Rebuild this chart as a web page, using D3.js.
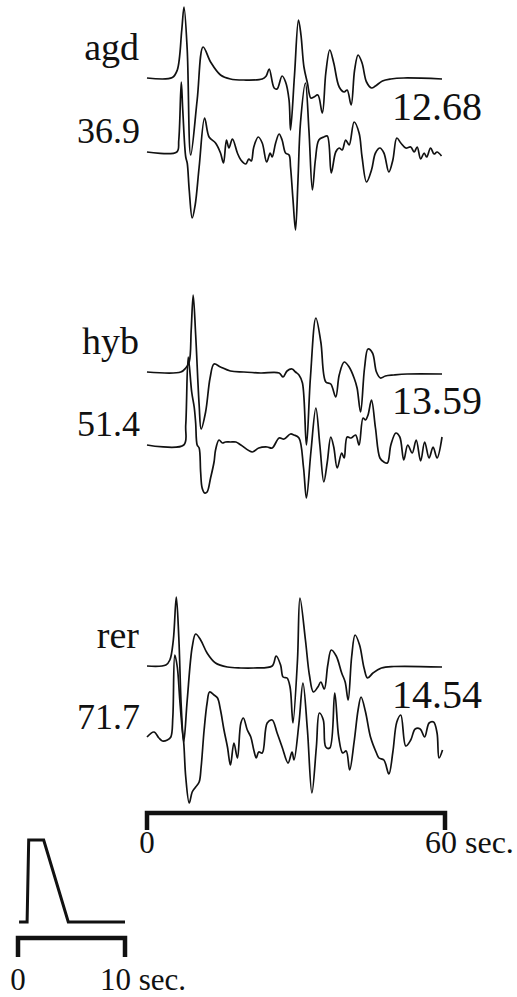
<!DOCTYPE html>
<html>
<head>
<meta charset="utf-8">
<script src="https://cdn.jsdelivr.net/npm/d3@7"></script>
<style>
	html, body { margin: 0; padding: 0; background: #fff; }
	svg { display: block; }
	text { font-family: "Liberation Serif", "Times New Roman", serif; fill: #111; }
</style>
</head>
<body>
<svg id="chart"></svg>
<script>
// station names and the two numbers printed next to each pair of traces
var stations = ['agd', 'hyb', 'rer'];
var leftValues = ['36.9', '51.4', '71.7'];
var rightValues = ['12.68', '13.59', '14.54'];

// [time in sec, amplitude]; upper = smooth trace, lower = noisy trace
var agdUpper = [[0,0],[5.1,0.5],[6.1,8],[7.0,48],[7.45,71],[8.1,28],[8.8,-77],[10.1,-22],[11.3,31],[12.8,16],[14.8,3],[16.8,-1],[19.5,-2],[23.2,-1],[24.0,2],[24.6,9],[25.6,-10],[26.2,-11],[27.2,2],[27.9,-4],[28.6,-22],[28.9,-52],[29.7,3],[30.5,58],[31.0,43],[31.6,11],[32.3,-5],[33.0,-20],[33.6,-19],[34.4,-17],[35.3,-35],[36.0,5],[36.8,28],[37.6,15],[38.7,-9],[39.7,-14],[40.3,-12],[41.1,-27],[41.8,8],[42.5,23],[43.3,15],[44.2,-4],[45.2,-10],[46.0,-8],[47.4,-3],[49.1,-1],[51.7,0],[59.4,-1]];
var agdLower = [[0,0],[6.0,0],[6.4,12],[6.9,70],[7.2,42],[7.8,-5],[8.1,-11],[8.5,-38],[9.1,-66],[9.7,-53],[10.5,-15],[11.6,34],[12.5,15],[13.8,9],[14.8,-1],[15.4,-11],[16.0,12],[16.5,4],[17.2,13],[18.2,-1],[18.9,-8],[19.9,-12],[20.5,-7],[21.0,-9],[21.5,5],[22.4,15],[23.2,9],[24.1,-10],[24.8,-1],[25.2,-5],[25.9,9],[26.6,18],[27.2,12],[27.9,-1],[28.6,-3],[28.9,-15],[29.4,-48],[29.9,-78],[30.4,-28],[30.9,29],[31.9,69],[32.6,22],[33.3,-38],[33.9,-8],[34.6,12],[35.6,15],[36.3,16],[37.1,-21],[38.0,0],[38.7,4],[39.3,2],[40.0,12],[40.7,7],[41.7,30],[42.7,19],[43.3,-5],[44.2,-30],[45.2,-18],[46.0,-1],[46.9,4],[47.7,-1],[48.7,-20],[49.5,-8],[50.3,14],[51.1,9],[52.1,4],[53.1,5],[53.8,0],[54.4,5],[55.1,-7],[55.8,-1],[56.3,-5],[57.1,4],[57.8,-2],[58.4,0],[59.3,-4]];
var hybUpper = [[0,0],[6.8,0],[7.8,4],[8.5,10],[8.9,42],[9.3,77],[9.8,37],[10.5,-33],[10.9,-57],[11.8,-40],[12.7,-6],[13.5,8],[14.8,5],[16.8,1],[19.5,0],[22.9,-1],[26.6,-1],[27.4,-5],[28.2,1],[29.2,3],[29.9,0],[30.6,-3],[31.3,-11],[32.1,-73],[32.9,-6],[34.0,54],[35.0,30],[36.0,-10],[37.0,-12],[38.0,-25],[38.7,-3],[39.7,10],[40.7,5],[41.7,-6],[42.3,-16],[43.0,-40],[43.8,4],[44.5,23],[45.4,19],[46.2,0],[47.0,-6],[48.0,-4],[49.7,-3],[52.4,-2],[59.4,-2]];
var hybLower = [[0,0],[7.4,0],[7.8,20],[8.3,88],[9.0,53],[9.5,38],[9.8,22],[10.1,0],[10.5,-3],[10.8,-27],[11.1,-43],[11.6,-48],[12.1,-47],[12.8,-33],[13.5,-17],[13.8,-5],[14.5,5],[15.2,2],[15.8,3],[16.8,3],[17.9,3],[18.9,0],[21.2,-7],[22.5,-3],[24.2,-2],[25.2,-3],[26.6,7],[27.6,6],[28.9,11],[29.6,10],[30.6,7],[31.5,-22],[32.1,-53],[33.0,-7],[34.0,37],[34.8,0],[35.6,-37],[36.3,-17],[37.0,8],[37.6,-2],[38.3,-23],[39.2,-8],[39.7,-13],[40.3,8],[41.1,7],[42.0,10],[42.7,0],[43.5,27],[44.0,25],[44.5,30],[45.2,45],[46.0,17],[46.9,-13],[47.7,-17],[48.4,-18],[49.1,0],[50.1,12],[50.9,8],[51.7,-15],[52.5,0],[53.4,-8],[54.2,5],[55.1,-16],[55.9,3],[56.8,-13],[57.6,-2],[58.4,-13],[59.4,8]];
var rerUpper = [[0,0],[3.8,1],[4.6,6],[5.3,26],[5.9,69],[6.4,29],[6.9,-41],[7.4,-76],[8.1,-34],[9.1,19],[9.8,32],[10.8,26],[12.1,13],[13.8,3],[16.2,-1],[18.9,-2],[21.5,-2],[25.2,0],[26.0,10],[26.9,1],[27.4,-11],[28.2,-12],[28.8,-21],[29.2,-47],[29.4,-57],[30.3,6],[30.8,68],[31.9,26],[32.7,-9],[33.5,-26],[34.4,-21],[35.0,-16],[35.7,-23],[36.4,1],[37.1,16],[38.1,10],[39.2,-7],[39.9,-16],[40.5,-34],[41.2,9],[41.9,31],[42.8,21],[43.7,-2],[44.4,-12],[45.5,-7],[47.2,-2],[49.7,-0.5],[59.4,-1]];
var rerLower = [[0,1],[1.4,6],[2.4,0],[3.1,-3],[4.1,-2],[4.8,1],[5.2,21],[5.6,83],[6.1,71],[6.6,38],[7.1,8],[7.4,-5],[7.8,-39],[8.5,-65],[9.1,-54],[9.8,-49],[10.5,-44],[10.9,-29],[11.5,8],[12.1,35],[12.6,46],[13.5,43],[14.2,40],[14.8,28],[15.5,8],[16.2,-9],[16.8,-27],[17.5,-5],[18.2,-20],[18.9,15],[19.4,20],[20.2,8],[20.9,1],[21.5,-12],[22.0,-20],[22.5,-14],[23.2,-15],[24.2,15],[25.2,18],[26.2,5],[27.2,-9],[28.4,-25],[29.2,-14],[29.6,-22],[30.6,15],[31.4,55],[32.3,8],[33.2,-55],[34.1,-9],[34.7,25],[35.5,18],[36.0,-9],[36.8,-10],[37.8,45],[38.6,1],[39.4,-15],[40.1,-13],[40.8,-32],[41.7,-4],[42.5,28],[43.1,41],[44.0,26],[45.0,1],[46.2,-15],[46.7,-20],[47.7,-22],[48.7,-36],[49.5,-14],[50.3,16],[51.1,23],[52.1,-8],[53.1,-2],[54.0,9],[55.0,9],[55.9,1],[56.8,15],[57.7,16],[58.4,5],[58.8,-20],[59.5,-12]];

// source time function (sec, relative amplitude)
var sourceFn = [[0.1,0],[0.85,0],[1.0,1],[2.4,1],[4.7,0],[10,0]];

var width = 517, height = 997;
var svg = d3.select('#chart').attr('width', width).attr('height', height);

var traces = [
	{upper: agdUpper, lower: agdLower, top: 78, bottom: 152},
	{upper: hybUpper, lower: hybLower, top: 372, bottom: 445},
	{upper: rerUpper, lower: rerLower, top: 666, bottom: 738}
];

var x = d3.scaleLinear().domain([0, 60]).range([147, 445]);

var drawTrace = function (data, base) {
	var y = d3.scaleLinear().domain([-100, 100]).range([base + 100, base - 100]);
	var line = d3.line()
		.x(function (d) {return x(d[0]);})
		.y(function (d) {return y(d[1]);})
		.curve(d3.curveCatmullRom.alpha(0.5));
	svg.append('path')
		.datum(data)
		.attr('d', line)
		.attr('fill', 'none')
		.attr('stroke', '#111')
		.attr('stroke-width', 1.7)
		.attr('stroke-linejoin', 'round');
};

traces.forEach(function (t, i) {
	drawTrace(t.upper, t.top);
	drawTrace(t.lower, t.bottom);

	svg.append('text')
		.attr('x', 139).attr('y', t.top - 18)
		.attr('text-anchor', 'end')
		.attr('font-size', 38)
		.text(stations[i]);
	svg.append('text')
		.attr('x', 140).attr('y', t.bottom - 9)
		.attr('text-anchor', 'end')
		.attr('font-size', 36)
		.text(leftValues[i]);
	svg.append('text')
		.attr('x', 392).attr('y', t.top + 42)
		.attr('font-size', 40)
		.text(rightValues[i]);
});

// scale bar with end ticks
var bar = function (scale, yLine, tickLen) {
	var r = scale.range();
	svg.append('path')
		.attr('d', 'M' + r[0] + ',' + (yLine + tickLen) + 'V' + yLine + 'H' + r[1] + 'V' + (yLine + tickLen))
		.attr('fill', 'none')
		.attr('stroke', '#111')
		.attr('stroke-width', 4.5);
};
bar(x, 813, 17);
svg.append('text').attr('x', x(0)).attr('y', 853).attr('text-anchor', 'middle')
	.attr('font-size', 31).text('0');
svg.append('text').attr('x', x(60) - 20).attr('y', 853)
	.attr('font-size', 32).text('60 sec.');

// source time function and its 10 sec bar
var xs = d3.scaleLinear().domain([0, 10]).range([18, 125]);
var ys = d3.scaleLinear().domain([0, 1]).range([922, 840]);
svg.append('path')
	.datum(sourceFn)
	.attr('d', d3.line().x(function (d) {return xs(d[0]);}).y(function (d) {return ys(d[1]);}))
	.attr('fill', 'none')
	.attr('stroke', '#111')
	.attr('stroke-width', 3)
	.attr('stroke-linejoin', 'miter');

bar(xs, 938, 19);
svg.append('text').attr('x', xs(0)).attr('y', 990).attr('text-anchor', 'middle')
	.attr('font-size', 31).text('0');
svg.append('text').attr('x', xs(10) - 25).attr('y', 990)
	.attr('font-size', 31).text('10 sec.');
</script>
</body>
</html>
